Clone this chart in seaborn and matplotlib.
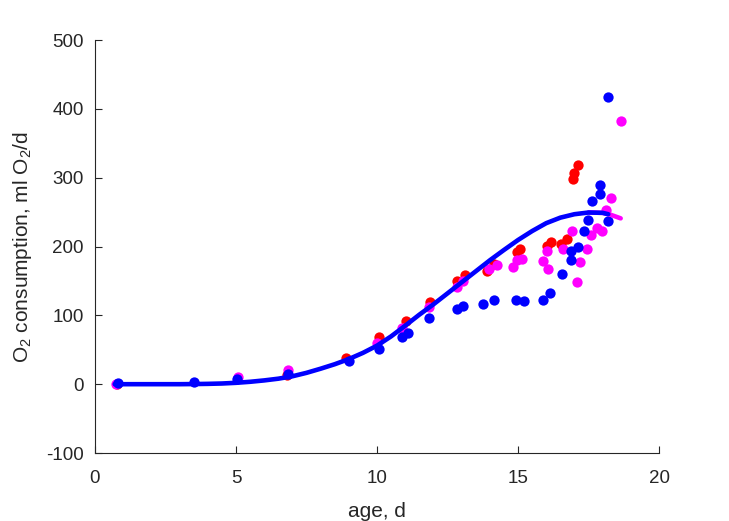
import matplotlib
matplotlib.use("Agg")
import matplotlib.pyplot as plt
import seaborn as sns
import pandas as pd

# ---- data ----
blue_x = [0.83, 3.52, 5.03, 6.84, 9.02, 10.08, 10.87, 11.11, 11.86, 12.83, 13.04, 13.77,
          14.15, 14.92, 15.20, 15.90, 16.12, 16.56, 16.89, 16.89, 17.14, 17.33, 17.49,
          18.20, 17.61, 17.90, 17.92, 18.20]
blue_y = [2, 3, 8, 15, 34, 51, 69, 74, 96, 109, 114, 117,
          122, 123, 121, 122, 133, 160, 181, 193, 200, 222, 239,
          237, 266, 277, 289, 418]

red_x = [0.78, 6.80, 8.90, 10.08, 11.02, 11.87, 12.83, 13.12, 13.89, 14.15, 14.95,
         15.07, 16.02, 16.16, 16.51, 16.74, 16.95, 16.97, 17.13]
red_y = [1, 14, 38, 68, 92, 119, 150, 159, 164, 175, 192,
         197, 201, 206, 203, 211, 298, 307, 319]

mag_x = [0.75, 5.06, 6.85, 9.99, 10.87, 11.86, 12.83, 13.04, 13.98, 14.24, 14.81,
         14.95, 15.14, 15.90, 16.03, 16.06, 16.58, 16.90, 17.08, 17.21, 17.45, 17.59,
         17.79, 17.97, 18.12, 18.30, 18.64]
mag_y = [0, 11, 20, 60, 82, 112, 141, 150, 167, 173, 171,
         180, 182, 179, 194, 167, 196, 222, 148, 177, 196, 217,
         227, 223, 253, 270, 382]

fit_blue_x = [0.7, 2, 3, 3.5, 4, 4.5, 5, 5.5, 6, 6.5, 7, 7.5, 8, 8.5, 9, 9.5, 10, 10.5,
              11, 11.5, 12, 12.5, 13, 13.5, 14, 14.5, 15, 15.5, 16, 16.5, 17, 17.5,
              18, 18.2]
fit_blue_y = [0, 0, 0, 0.2, 0.5, 1, 2, 3.5, 5.5, 8, 11.5, 16.5, 22.5, 29, 36.5, 45.5,
              56, 69.5, 85, 101, 116, 132, 148, 164, 180, 195, 209.5, 222.5, 234,
              242, 247, 249.5, 249, 247]

fit_mag_x = [17.5, 18.0, 18.3, 18.64]
fit_mag_y = [249.5, 249, 246, 241]

df = pd.concat([
    pd.DataFrame({"age": red_x, "o2": red_y, "grp": "red"}),
    pd.DataFrame({"age": mag_x, "o2": mag_y, "grp": "mag"}),
    pd.DataFrame({"age": blue_x, "o2": blue_y, "grp": "blue"}),
], ignore_index=True)

sns.set_style("ticks")
plt.rcParams["font.family"] = ["Liberation Sans", "DejaVu Sans"]
plt.rcParams["mathtext.fontset"] = "custom"
plt.rcParams["mathtext.rm"] = "Liberation Sans"
plt.rcParams["mathtext.it"] = "Liberation Sans"
plt.rcParams["axes.unicode_minus"] = False

fig = plt.figure(figsize=(7.29, 5.21), dpi=100)
ax = fig.add_axes([0.1303, 0.1305, 0.7737, 0.7925])

palette = {"red": (1, 0, 0), "mag": (1, 0, 1), "blue": (0, 0, 1)}
for g in ["red", "mag", "blue"]:
    sns.scatterplot(data=df[df.grp == g], x="age", y="o2", color=palette[g],
                    s=55, linewidth=0, ax=ax, zorder=2, legend=False)

sns.lineplot(x=fit_mag_x, y=fit_mag_y, color=(1, 0, 1), lw=3.3, ax=ax,
             sort=False, estimator=None, zorder=3)
sns.lineplot(x=fit_blue_x, y=fit_blue_y, color=(0, 0, 1), lw=3.3, ax=ax,
             sort=False, estimator=None, zorder=4)

ax.set_xlim(0, 20)
ax.set_ylim(-100, 500)
ax.set_xticks([0, 5, 10, 15, 20])
ax.set_yticks([-100, 0, 100, 200, 300, 400, 500])
dark = (0.15, 0.15, 0.15)
ax.tick_params(direction="in", length=5, width=0.8, colors=dark, labelsize=13.5)
ax.tick_params(axis="x", pad=12)
ax.tick_params(axis="y", pad=8)
for sp in ["top", "right"]:
    ax.spines[sp].set_visible(False)
for sp in ["left", "bottom"]:
    ax.spines[sp].set_color(dark)
    ax.spines[sp].set_linewidth(0.8)
ax.set_xlabel("age, d", fontsize=15, color=dark, labelpad=11)
ax.set_ylabel("O$_2$ consumption, ml O$_2$/d", fontsize=15, color=dark, labelpad=9)

fig.savefig("out.png", dpi=100)
